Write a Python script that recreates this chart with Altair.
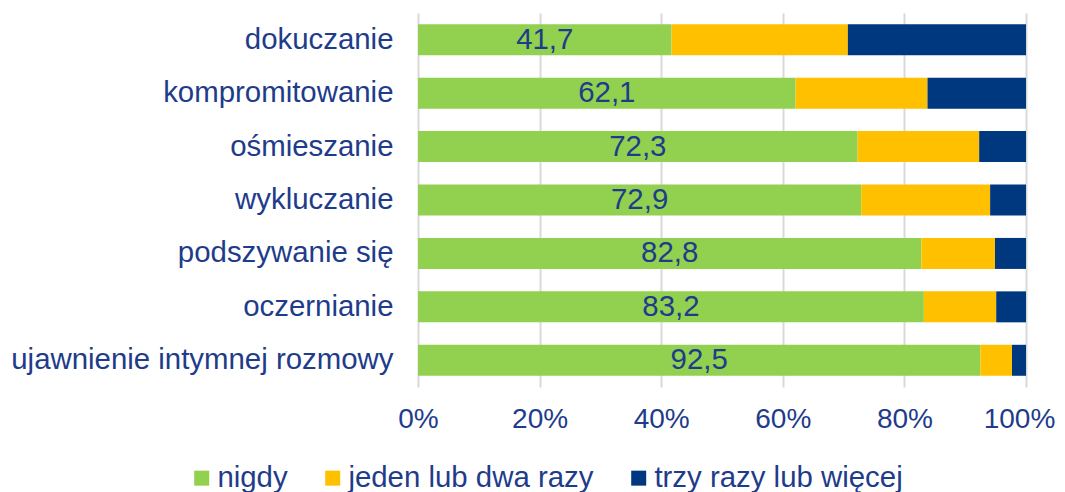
import altair as alt
import pandas as pd

categories = ["dokuczanie", "kompromitowanie", "ośmieszanie", "wykluczanie",
              "podszywanie się", "oczernianie", "ujawnienie intymnej rozmowy"]
series_names = ["nigdy", "jeden lub dwa razy", "trzy razy lub więcej"]
nigdy = [41.7, 62.1, 72.3, 72.9, 82.8, 83.2, 92.5]
jeden = [29.0, 21.7, 20.0, 21.2, 12.1, 11.9, 5.2]
trzy = [29.3, 16.2, 7.7, 5.9, 5.1, 4.9, 2.3]
colors = ["#92D050", "#FFC000", "#00387F"]
x_ticks = [0, 20, 40, 60, 80, 100]

rows = []
for i, c in enumerate(categories):
    for j, (s, vals) in enumerate(zip(series_names, [nigdy, jeden, trzy])):
        rows.append({"kat": c, "odp": s, "val": vals[i], "ord": j})
df = pd.DataFrame(rows)

lab = pd.DataFrame({
    "kat": categories,
    "half": [v / 2 for v in nigdy],
    "txt": [f"{v:.1f}".replace(".", ",") for v in nigdy],
})

TXT = "#1E3C8A"
FONT = "Liberation Sans"
FS = 29.4

y_enc = alt.Y("kat:N", sort=categories, title=None,
              scale=alt.Scale(paddingInner=0.42, paddingOuter=0.21),
              axis=alt.Axis(domain=False, ticks=False, labelFontSize=FS,
                            labelColor=TXT, labelFont=FONT, labelPadding=25,
                            labelLimit=500))

bars = alt.Chart(df).mark_bar().encode(
    x=alt.X("val:Q", stack="zero", title=None,
            scale=alt.Scale(domain=[0, 100], nice=False),
            axis=alt.Axis(values=x_ticks, labelExpr="datum.value + '%'",
                          domain=False, ticks=False, grid=True,
                          gridColor="#D9D9D9", gridWidth=2, labelFlush=False,
                          labelOffset={"condition": {"test": "datum.value === 100", "value": -7}, "value": 0},
                          labelFontSize=28, labelColor=TXT, labelFont=FONT,
                          labelPadding=18)),
    y=y_enc,
    color=alt.Color("odp:N", sort=series_names,
                    scale=alt.Scale(domain=series_names, range=colors),
                    legend=alt.Legend(title=None, orient="none", direction="horizontal",
                                      legendX=-231, legendY=450,
                                      symbolType="square", symbolSize=225,
                                      symbolStrokeWidth=0,
                                      labelFontSize=FS, labelColor=TXT, labelFont=FONT,
                                      labelOffset=1, columnPadding=30,
                                      labelLimit=400)),
    order=alt.Order("ord:Q"),
)

texts = alt.Chart(lab).mark_text(fontSize=FS, color=TXT, font=FONT, baseline="middle").encode(
    x=alt.X("half:Q"),
    y=alt.Y("kat:N", sort=categories),
    text="txt:N",
)

chart = alt.layer(bars, texts).properties(
    width=608, height=374,
    autosize=alt.AutoSizeParams(type="none"),
    padding={"left": 410, "top": 5, "right": 31, "bottom": 120},
).configure_view(stroke=None).configure_axis(labelFont=FONT)

chart.save("out.html", embed_options={"renderer": "svg", "actions": False})
